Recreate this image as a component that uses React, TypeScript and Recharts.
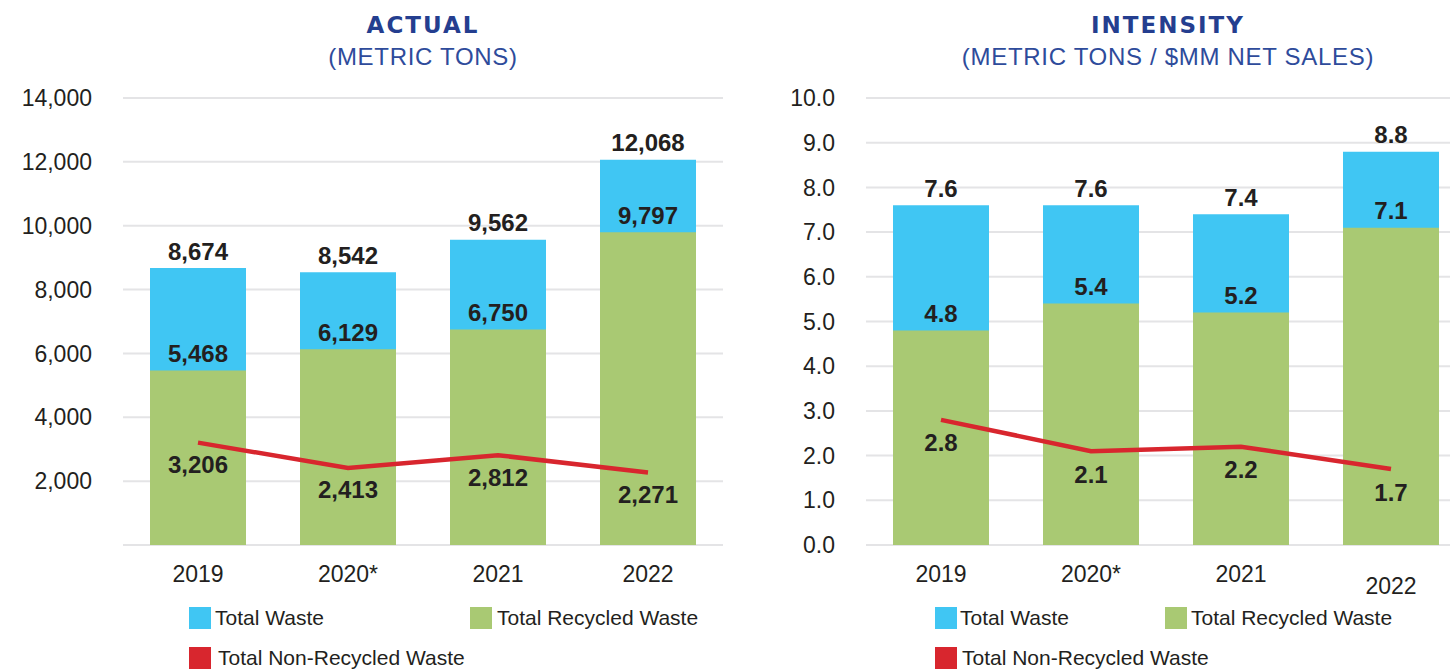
import React from 'react';
import { ComposedChart, Bar, Line, XAxis, YAxis, CartesianGrid, LabelList } from 'recharts';

// values
const years = ['2019', '2020*', '2021', '2022'];

const actualTotal = [8674, 8542, 9562, 12068];
const actualRecycled = [5468, 6129, 6750, 9797];
const actualNonRecycled = [3206, 2413, 2812, 2271];
const actualTicks = [0, 2000, 4000, 6000, 8000, 10000, 12000, 14000];

const intensityTotal = [7.6, 7.6, 7.4, 8.8];
const intensityRecycled = [4.8, 5.4, 5.2, 7.1];
const intensityNonRecycled = [2.8, 2.1, 2.2, 1.7];
const intensityTicks = [0, 1, 2, 3, 4, 5, 6, 7, 8, 9, 10];

const colors = {
  total: '#40c6f3',
  recycled: '#a9c973',
  nonRecycled: '#d8262e',
  grid: '#e4e4e6',
  text: '#231f20',
  title: '#243e8f',
  subtitle: '#2e4b9b',
};

const FONT = '"Liberation Sans", Arial, Helvetica, sans-serif';

const actualData = years.map((year, i) => ({
  year,
  total: actualTotal[i],
  recycled: actualRecycled[i],
  nonRecycled: actualNonRecycled[i],
}));

const intensityData = years.map((year, i) => ({
  year,
  total: intensityTotal[i],
  recycled: intensityRecycled[i],
  nonRecycled: intensityNonRecycled[i],
}));

const fmtThousands = (v: number) => v.toLocaleString('en-US');
const fmtOne = (v: number) => v.toFixed(1);

function makeBarLabel(fmt: (v: number) => string, dy: number) {
  return (props: any) => {
    const { x, y, width, value } = props;
    return (
      <text
        x={x + width / 2}
        y={y + dy}
        textAnchor="middle"
        dominantBaseline="central"
        fontFamily={FONT}
        fontWeight="bold"
        fontSize={24}
        fill={colors.text}
      >
        {fmt(value)}
      </text>
    );
  };
}

function makeLineLabel(fmt: (v: number) => string, dy: number) {
  return (props: any) => {
    const { x, y, value } = props;
    return (
      <text
        x={x}
        y={y + dy}
        textAnchor="middle"
        dominantBaseline="central"
        fontFamily={FONT}
        fontWeight="bold"
        fontSize={24}
        fill={colors.text}
      >
        {fmt(value)}
      </text>
    );
  };
}

// x tick; the right panel drops its last label a bit lower, like the original
function makeXTick(lowered: string[]) {
  return (props: any) => {
    const { x, y, payload } = props;
    const extra = lowered.includes(payload.value) ? 12 : 0;
    return (
      <text
        x={x}
        y={y + 21 + extra}
        textAnchor="middle"
        dominantBaseline="central"
        fontFamily={FONT}
        fontSize={23}
        fill={colors.text}
      >
        {payload.value}
      </text>
    );
  };
}

interface PanelProps {
  data: any[];
  ticks: number[];
  domain: [number, number];
  tickFmt: (v: number) => string;
  labelFmt: (v: number) => string;
  yAxisWidth: number;
  rightMargin: number;
  loweredTicks: string[];
  lineDy: number;
}

function Panel({ data, ticks, domain, tickFmt, labelFmt, yAxisWidth, rightMargin, loweredTicks, lineDy }: PanelProps) {
  return (
    <ComposedChart
      width={740}
      height={620}
      data={data}
      margin={{ top: 98, right: rightMargin, left: 0, bottom: 0 }}
      barSize={96}
      barGap={-96}
      barCategoryGap={27}
    >
      <CartesianGrid vertical={false} stroke={colors.grid} strokeWidth={2} />
      <XAxis
        dataKey="year"
        height={75}
        axisLine={false}
        tickLine={false}
        interval={0}
        tick={makeXTick(loweredTicks)}
      />
      <YAxis
        width={yAxisWidth}
        domain={domain}
        ticks={ticks}
        interval={0}
        axisLine={false}
        tickLine={false}
        tickSize={0}
        tickMargin={31}
        tickFormatter={tickFmt}
        tick={{ fontFamily: FONT, fontSize: 23, fill: colors.text }}
      />
      <Bar dataKey="total" fill={colors.total} isAnimationActive={false}>
        <LabelList dataKey="total" content={makeBarLabel(labelFmt, -17)} />
      </Bar>
      <Bar dataKey="recycled" fill={colors.recycled} isAnimationActive={false}>
        <LabelList dataKey="recycled" content={makeBarLabel(labelFmt, -17)} />
      </Bar>
      <Line
        type="linear"
        dataKey="nonRecycled"
        stroke={colors.nonRecycled}
        strokeWidth={4.5}
        dot={false}
        activeDot={false}
        isAnimationActive={false}
      >
        <LabelList dataKey="nonRecycled" content={makeLineLabel(labelFmt, lineDy)} />
      </Line>
    </ComposedChart>
  );
}

function Swatch({ left, top, color, label, gap }: { left: number; top: number; color: string; label: string; gap: number }) {
  return (
    <div style={{ position: 'absolute', left, top, display: 'flex', alignItems: 'center' }}>
      <div style={{ width: 22, height: 22, background: color }} />
      <span style={{ marginLeft: gap, fontFamily: FONT, fontSize: 21, color: colors.text, lineHeight: '22px', whiteSpace: 'nowrap' }}>{label}</span>
    </div>
  );
}

function Titles({ center, title, subtitle }: { center: number; title: string; subtitle: string }) {
  return (
    <>
      <div
        style={{
          position: 'absolute',
          left: center - 300,
          width: 600,
          top: 10,
          textAlign: 'center',
          fontFamily: '"DejaVu Sans", Arial, sans-serif',
          fontWeight: 900,
          fontSize: 23,
          letterSpacing: 2,
          color: colors.title,
          lineHeight: '30px',
        }}
      >
        {title}
      </div>
      <div
        style={{
          position: 'absolute',
          left: center - 300,
          width: 600,
          top: 42,
          textAlign: 'center',
          fontFamily: FONT,
          fontSize: 24,
          letterSpacing: 0.7,
          color: colors.subtitle,
          lineHeight: '30px',
        }}
      >
        {subtitle}
      </div>
    </>
  );
}

export default function App() {
  return (
    <div
      style={{
        position: 'absolute',
        left: 0,
        top: 0,
        width: 1450,
        height: 670,
        overflow: 'hidden',
        background: '#ffffff',
      }}
    >
      <Titles center={423} title="ACTUAL" subtitle="(METRIC TONS)" />
      <Titles center={1168} title="INTENSITY" subtitle="(METRIC TONS / $MM NET SALES)" />

      <div style={{ position: 'absolute', left: 0, top: 0 }}>
        <Panel
          data={actualData}
          ticks={actualTicks}
          domain={[0, 14000]}
          tickFmt={(v) => (v === 0 ? '' : fmtThousands(v))}
          labelFmt={fmtThousands}
          yAxisWidth={123}
          rightMargin={17}
          loweredTicks={[]}
          lineDy={22}
        />
      </div>
      <div style={{ position: 'absolute', left: 740, top: 0 }}>
        <Panel
          data={intensityData}
          ticks={intensityTicks}
          domain={[0, 10]}
          tickFmt={fmtOne}
          labelFmt={fmtOne}
          yAxisWidth={126}
          rightMargin={14}
          loweredTicks={['2022']}
          lineDy={23}
        />
      </div>

      <Swatch left={189} top={607} color={colors.total} label="Total Waste" gap={4} />
      <Swatch left={470} top={607} color={colors.recycled} label="Total Recycled Waste" gap={5} />
      <Swatch left={189} top={647} color={colors.nonRecycled} label="Total Non-Recycled Waste" gap={7} />

      <Swatch left={935} top={607} color={colors.total} label="Total Waste" gap={3} />
      <Swatch left={1165} top={607} color={colors.recycled} label="Total Recycled Waste" gap={4} />
      <Swatch left={935} top={647} color={colors.nonRecycled} label="Total Non-Recycled Waste" gap={5} />
    </div>
  );
}
